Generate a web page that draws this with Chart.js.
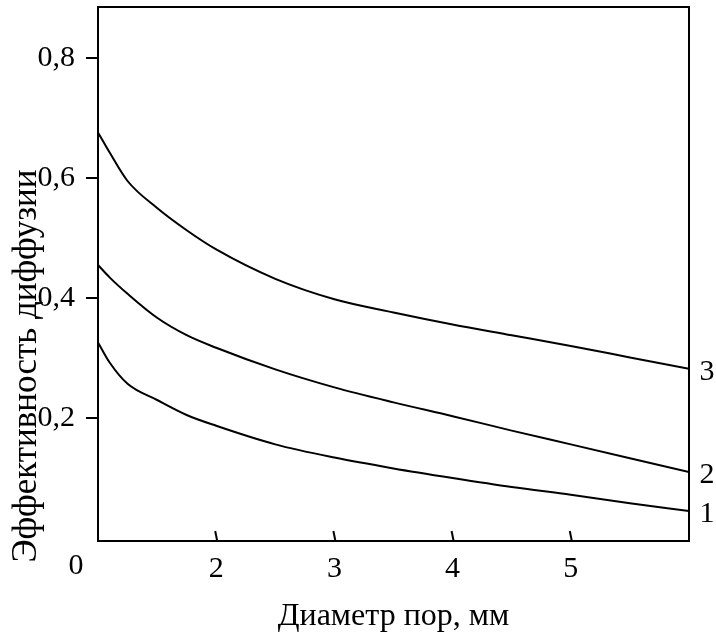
<!DOCTYPE html>
<html>
<head>
<meta charset="utf-8">
<script src="https://cdn.jsdelivr.net/npm/chart.js@4.4.1/dist/chart.umd.min.js"></script>
<style>
    html, body { margin: 0; padding: 0; background: #fff; }
    #wrap { width: 716px; height: 641px; }
</style>
</head>
<body>
<div id="wrap"><canvas id="chart"></canvas></div>
<script>
// values
const poreDiameter = [1, 1.1, 1.25, 1.5, 1.75, 2, 2.5, 3, 3.5, 4, 4.5, 5, 5.5, 6];
const curve1 = [0.326, 0.292, 0.257, 0.230, 0.205, 0.187, 0.156, 0.134, 0.116, 0.100, 0.085, 0.072, 0.058, 0.045];
const curve2 = [0.455, 0.434, 0.407, 0.367, 0.338, 0.317, 0.281, 0.251, 0.226, 0.203, 0.179, 0.156, 0.133, 0.110];
const curve3 = [0.676, 0.642, 0.595, 0.550, 0.513, 0.481, 0.432, 0.398, 0.376, 0.356, 0.338, 0.320, 0.301, 0.282];
const curveNames = ['1', '2', '3'];
const xTicks = [2, 3, 4, 5];
const yTicks = [0.2, 0.4, 0.6, 0.8];
const xTitle = 'Диаметр пор, мм';
const yTitle = 'Эффективность диффузии';

const FONT = "'Liberation Serif', 'Times New Roman', serif";
const FONT_SIZE = 30;

const toPoints = (ys) => poreDiameter.map((x, i) => ({ x: x, y: ys[i] }));

function makeDataset(name, ys) {
    return {
        label: name,
        data: toPoints(ys),
        borderColor: '#000',
        borderWidth: 2,
        pointRadius: 0,
        fill: false,
        cubicInterpolationMode: 'monotone',
    };
}

// frame, inward x ticks, origin "0", y title and curve numbers
const decorations = {
    id: 'decorations',
    afterDraw(chart) {
        const { ctx, chartArea, scales } = chart;
        ctx.save();
        ctx.strokeStyle = '#000';
        ctx.lineWidth = 2;
        ctx.strokeRect(chartArea.left, chartArea.top,
            chartArea.right - chartArea.left, chartArea.bottom - chartArea.top);

        xTicks.forEach(v => {
            const px = scales.x.getPixelForValue(v);
            ctx.beginPath();
            ctx.moveTo(px + 1, chartArea.bottom);
            ctx.lineTo(px - 1, chartArea.bottom - 10);
            ctx.stroke();
        });

        ctx.fillStyle = '#000';
        ctx.font = FONT_SIZE + 'px ' + FONT;
        ctx.textAlign = 'center';
        ctx.textBaseline = 'top';
        ctx.fillText('0', chartArea.left - 22, scales.x.top + 10);

        ctx.textBaseline = 'middle';
        chart.data.datasets.forEach((ds, i) => {
            const pts = chart.getDatasetMeta(i).data;
            const last = pts[pts.length - 1];
            ctx.fillText(curveNames[i], chartArea.right + 18, last.y + 3);
        });

        ctx.font = '35px ' + FONT;
        ctx.translate(27, 366);
        ctx.rotate(-Math.PI / 2);
        ctx.fillText(yTitle, 0, 0);
        ctx.restore();
    }
};

new Chart(document.getElementById('chart'), {
    type: 'line',
    data: {
        datasets: [
            makeDataset(curveNames[0], curve1),
            makeDataset(curveNames[1], curve2),
            makeDataset(curveNames[2], curve3),
        ]
    },
    options: {
        responsive: true,
        maintainAspectRatio: false,
        animation: false,
        layout: {
            padding: { left: 0, top: 7, right: 27, bottom: 0 }
        },
        plugins: {
            legend: { display: false },
            tooltip: { enabled: false },
        },
        scales: {
            x: {
                type: 'linear',
                min: 1,
                max: 6,
                afterBuildTicks: (scale) => { scale.ticks = xTicks.map(v => ({ value: v })); },
                afterFit: (scale) => {
                    scale.height = 100;
                    scale.paddingLeft = 0;
                    scale.paddingRight = 0;
                },
                grid: { display: false, drawTicks: false },
                border: { display: false },
                ticks: {
                    color: '#000',
                    padding: 10,
                    font: { family: FONT, size: FONT_SIZE },
                    callback: (v) => String(v),
                },
                title: {
                    display: true,
                    text: xTitle,
                    color: '#000',
                    padding: { top: 0, bottom: 5 },
                    font: { family: FONT, size: 32 },
                },
            },
            y: {
                min: -0.005,
                max: 0.885,
                afterBuildTicks: (scale) => { scale.ticks = yTicks.map(v => ({ value: v })); },
                afterFit: (scale) => {
                    scale.width = 98;
                    scale.paddingTop = 0;
                    scale.paddingBottom = 0;
                },
                grid: {
                    drawOnChartArea: false,
                    drawTicks: true,
                    tickLength: 12,
                    color: '#000',
                    lineWidth: 2,
                },
                border: { display: false },
                ticks: {
                    color: '#000',
                    padding: 11,
                    font: { family: FONT, size: FONT_SIZE },
                    callback: (v) => v.toFixed(1).replace('.', ','),
                },
            },
        },
    },
    plugins: [decorations],
});
</script>
</body>
</html>
